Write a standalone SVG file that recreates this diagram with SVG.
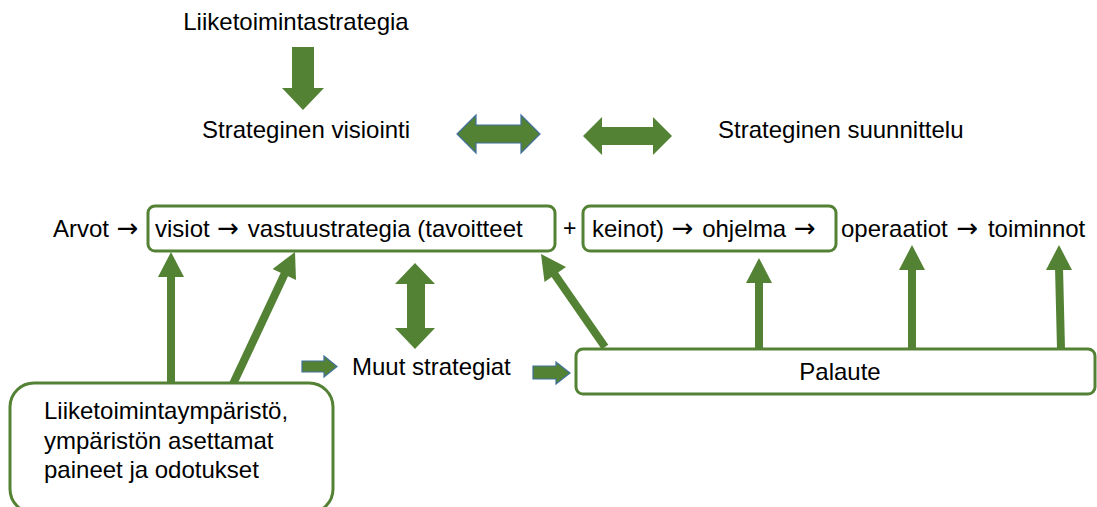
<svg xmlns="http://www.w3.org/2000/svg" width="1097" height="507" viewBox="0 0 1097 507">
<style>
text{font-family:"Liberation Sans",Arial,sans-serif;font-size:24px;fill:#000}
.ar{font-family:"DejaVu Sans",sans-serif;font-size:26px}
.box{fill:#fff;stroke:#548235;stroke-width:3}
.fill{fill:#548235}
.blue{fill:#548235;stroke:#41719C;stroke-width:1.2}
.shaft{stroke:#548235;stroke-width:8;fill:none}
</style>
<rect width="1097" height="507" fill="#fff"/>
<g id="connectors">
<polygon class="fill" points="292,47 314,47 314,88 324,88 303,110 282,88 292,88"/>
<polygon class="blue" points="457,134 476,115 476,125 521,125 521,115 540,134 521,153 521,143 476,143 476,153"/>
<polygon class="fill" points="583,136 602,117 602,127 653,127 653,117 672,136 653,155 653,145 602,145 602,155"/>
<polygon class="fill" points="415,263 435,284 425,284 425,328 435,328 415,349 395,328 407,328 407,284 395,284"/>
<polygon class="blue" points="302,361 324,361 324,356 337,366.5 324,377 324,372 302,372"/>
<polygon class="blue" points="533,366 556,366 556,362 570,373 556,384 556,379 533,379"/>
<line class="shaft" x1="171" y1="384" x2="171" y2="274"/>
<polygon class="fill" points="171,252 184,277 158,277"/>
<line class="shaft" x1="233" y1="384" x2="286" y2="271"/>
<polygon class="fill" points="295,252 296,280 272.6,269"/>
<line class="shaft" x1="605" y1="347" x2="553" y2="272"/>
<polygon class="fill" points="541,254 566,267 544.5,282"/>
<line class="shaft" x1="759" y1="349" x2="759" y2="280"/>
<polygon class="fill" points="759,258 772,283 746,283"/>
<line class="shaft" x1="912" y1="349" x2="912" y2="267"/>
<polygon class="fill" points="912,245 925,270 899,270"/>
<line class="shaft" x1="1061" y1="349" x2="1059" y2="267"/>
<polygon class="fill" points="1059,245 1072,270 1046,270"/>
</g>
<g id="liiketoimintastrategia"><text x="296" y="30" text-anchor="middle">Liiketoimintastrategia</text></g>
<g id="visiointi"><text x="202" y="138">Strateginen visiointi</text></g>
<g id="suunnittelu"><text x="718" y="138">Strateginen suunnittelu</text></g>
<g id="arvot"><text x="53" y="237">Arvot <tspan class="ar" dx="1">→</tspan></text></g>
<g id="visiot">
<rect class="box" x="148" y="206" width="407" height="45" rx="7"/>
<text x="155" y="237">visiot <tspan class="ar" dx="1">→</tspan><tspan dx="2"> vastuustrategia (tavoitteet</tspan></text>
</g>
<g id="plus"><text x="563" y="236" style="font-size:23px">+</text></g>
<g id="keinot">
<rect class="box" x="583" y="206" width="253" height="45" rx="7"/>
<text x="592" y="237">keinot) <tspan class="ar" dx="1">→</tspan><tspan dx="2"> ohjelma </tspan><tspan class="ar" dx="1">→</tspan></text>
</g>
<g id="operaatiot"><text x="841" y="237">operaatiot <tspan class="ar" dx="2">→</tspan><tspan dx="3"> toiminnot</tspan></text></g>
<g id="muut"><text x="352" y="375">Muut strategiat</text></g>
<g id="palaute">
<rect class="box" x="576" y="349" width="519" height="45" rx="7"/>
<text x="840" y="380" text-anchor="middle">Palaute</text>
</g>
<g id="ymparisto">
<rect class="box" x="10" y="383" width="323" height="130" rx="24"/>
<text x="44" y="419">Liiketoimintaympäristö,</text>
<text x="44" y="449">ympäristön asettamat</text>
<text x="44" y="478">paineet ja odotukset</text>
</g>
</svg>
